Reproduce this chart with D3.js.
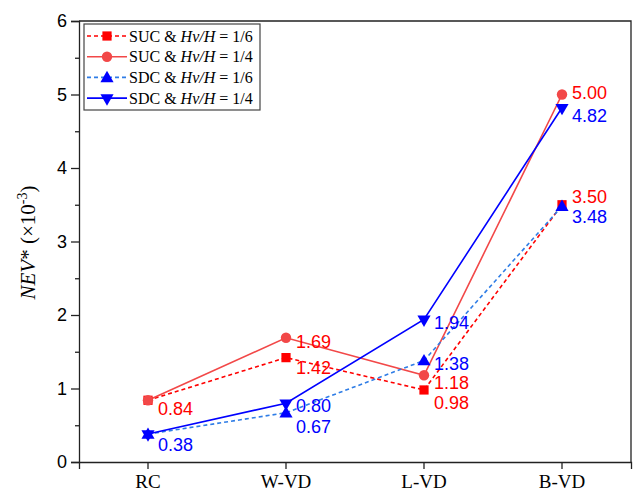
<!DOCTYPE html>
<html>
<head>
<meta charset="utf-8">
<script src="https://cdn.jsdelivr.net/npm/d3@7"></script>
<style>
  html, body { margin: 0; padding: 0; background: #fff; }
  svg { display: block; }
</style>
</head>
<body>
<svg id="chart" width="633" height="493"></svg>
<script>
// Categories along the x axis
const categories = ["RC", "W-VD", "L-VD", "B-VD"];

// NEV* values (×10^-3) for each case
const sucSixth   = [0.84, 1.42, 0.98, 3.50];
const sucQuarter = [0.84, 1.69, 1.18, 5.00];
const sdcSixth   = [0.38, 0.67, 1.38, 3.48];
const sdcQuarter = [0.38, 0.80, 1.94, 4.82];

// y axis tick labels
const yTicks = [0, 1, 2, 3, 4, 5, 6];

// vertical nudge of each value label relative to its point (px)
const sucSixthLabelDy   = [15, 16, 19, -2];
const sucQuarterLabelDy = [15, 10, 14, 4];
const sdcSixthLabelDy   = [17, 20, 9, 17];
const sdcQuarterLabelDy = [17, 9, 10, 14];

const series = [
  { name: "SUC", ratio: "1/6", values: sucSixth,   dy: sucSixthLabelDy,   line: "#ff0000", marker: "#ff0000", label: "#ff0000", dash: "4,3", shape: "square" },
  { name: "SUC", ratio: "1/4", values: sucQuarter, dy: sucQuarterLabelDy, line: "#f24848", marker: "#f24848", label: "#ff0000", dash: null,  shape: "circle" },
  { name: "SDC", ratio: "1/6", values: sdcSixth,   dy: sdcSixthLabelDy,   line: "#2f7de6", marker: "#0000ff", label: "#0000ff", dash: "4,3", shape: "up" },
  { name: "SDC", ratio: "1/4", values: sdcQuarter, dy: sdcQuarterLabelDy, line: "#0000ff", marker: "#0000ff", label: "#0000ff", dash: null,  shape: "down" }
];

const svg = d3.select("#chart");
const plot = { left: 79, right: 631, top: 21, bottom: 462 };

const x = d3.scaleBand().domain(categories).range([plot.left, plot.right]).padding(0);
const xc = c => x(c) + x.bandwidth() / 2;
const y = d3.scaleLinear().domain([0, 6]).range([plot.bottom, plot.top]);

const axisColor = "#222";

// frame: top and right edges
svg.append("path")
  .attr("d", `M${plot.left},${plot.top}H${plot.right}V${plot.bottom}`)
  .attr("fill", "none").attr("stroke", axisColor).attr("stroke-width", 1.3);

// minor y ticks
const yMinor = d3.axisLeft(y).tickValues(d3.range(0.5, 6, 1)).tickSize(4).tickFormat("");
svg.append("g").attr("transform", `translate(${plot.left},0)`).call(yMinor)
  .call(g => g.select(".domain").remove())
  .call(g => g.selectAll("line").attr("stroke", axisColor).attr("stroke-width", 1.3));

// major y axis
const yAxis = d3.axisLeft(y).tickValues(yTicks).tickSize(8).tickPadding(4).tickFormat(d3.format("d"));
svg.append("g").attr("transform", `translate(${plot.left},0)`).call(yAxis)
  .call(g => g.select(".domain").attr("stroke", axisColor).attr("stroke-width", 1.3))
  .call(g => g.selectAll("line").attr("stroke", axisColor).attr("stroke-width", 1.3))
  .call(g => g.selectAll("text")
    .attr("font-family", "'Liberation Sans', Arial, sans-serif")
    .attr("font-size", 18).attr("fill", "#000"));

// x axis
const xAxis = d3.axisBottom(x).tickSize(7).tickPadding(6);
svg.append("g").attr("transform", `translate(0,${plot.bottom})`).call(xAxis)
  .call(g => g.select(".domain").attr("stroke", axisColor).attr("stroke-width", 1.3))
  .call(g => g.selectAll("line").attr("stroke", axisColor).attr("stroke-width", 1.3))
  .call(g => g.selectAll("text")
    .attr("font-family", "'Liberation Serif', 'Times New Roman', serif")
    .attr("font-size", 19).attr("fill", "#000"));

// y axis title
const title = svg.append("text")
  .attr("transform", `translate(35,${(plot.top + plot.bottom) / 2 + 1}) rotate(-90)`)
  .attr("text-anchor", "middle")
  .attr("font-family", "'Liberation Serif', 'Times New Roman', serif")
  .attr("font-size", 21).attr("fill", "#000");
title.append("tspan").attr("font-style", "italic").text("NEV");
title.append("tspan").text("* (×10");
title.append("tspan").attr("font-size", 14).attr("dy", -8).text("-3");
title.append("tspan").attr("dy", 8).text(")");

// marker symbols
function markerPath(shape) {
  switch (shape) {
    case "square": return d3.symbol(d3.symbolSquare, 85)();
    case "circle": return d3.symbol(d3.symbolCircle, 85)();
    case "up":     return d3.symbol(d3.symbolTriangle, 75)();
    case "down":   return d3.symbol(d3.symbolTriangle, 75)();
  }
}
function markerTransform(shape, px, py) {
  return shape === "down" ? `translate(${px},${py}) rotate(180)` : `translate(${px},${py + (shape === "up" ? 1 : 0)})`;
}

const line = d3.line().x((d, i) => xc(categories[i])).y(d => y(d));

// lines
series.forEach(s => {
  svg.append("path")
    .datum(s.values)
    .attr("d", line)
    .attr("fill", "none")
    .attr("stroke", s.line)
    .attr("stroke-width", 1.6)
    .attr("stroke-dasharray", s.dash);
});

// markers
series.forEach(s => {
  svg.append("g").selectAll("path")
    .data(s.values)
    .join("path")
    .attr("d", markerPath(s.shape))
    .attr("transform", (d, i) => markerTransform(s.shape, xc(categories[i]), y(d)))
    .attr("fill", s.marker);
});

// value labels; a label identical to one already written at the same spot is skipped
const written = new Set();
series.forEach(s => {
  const items = s.values
    .map((v, i) => ({ v, i, key: `${s.label}|${i}|${v}` }))
    .filter(d => !written.has(d.key));
  items.forEach(d => written.add(d.key));
  svg.append("g").selectAll("text")
    .data(items)
    .join("text")
    .attr("x", d => xc(categories[d.i]) + 10)
    .attr("y", d => y(d.v) + s.dy[d.i])
    .attr("font-family", "'Liberation Sans', Arial, sans-serif")
    .attr("font-size", 18)
    .attr("fill", s.label)
    .text(d => d3.format(".2f")(d.v));
});

// legend
const legend = svg.append("g").attr("transform", "translate(84,24)");
legend.append("rect")
  .attr("width", 176).attr("height", 86)
  .attr("fill", "#fff").attr("stroke", "#444").attr("stroke-width", 1.2);

series.forEach((s, i) => {
  const row = legend.append("g").attr("transform", `translate(0,${12 + i * 20.7})`);
  row.append("line")
    .attr("x1", 3).attr("x2", 43).attr("y1", 0).attr("y2", 0)
    .attr("stroke", s.line).attr("stroke-width", 1.6)
    .attr("stroke-dasharray", s.dash);
  row.append("path")
    .attr("d", markerPath(s.shape))
    .attr("transform", markerTransform(s.shape, 23, 0))
    .attr("fill", s.marker);
  const t = row.append("text")
    .attr("x", 45).attr("y", 5.5)
    .attr("font-family", "'Liberation Serif', 'Times New Roman', serif")
    .attr("font-size", 16).attr("fill", "#000");
  t.append("tspan").text(`${s.name} & `);
  t.append("tspan").attr("font-style", "italic").text("Hv/H");
  t.append("tspan").text(` = ${s.ratio}`);
});
</script>
</body>
</html>
